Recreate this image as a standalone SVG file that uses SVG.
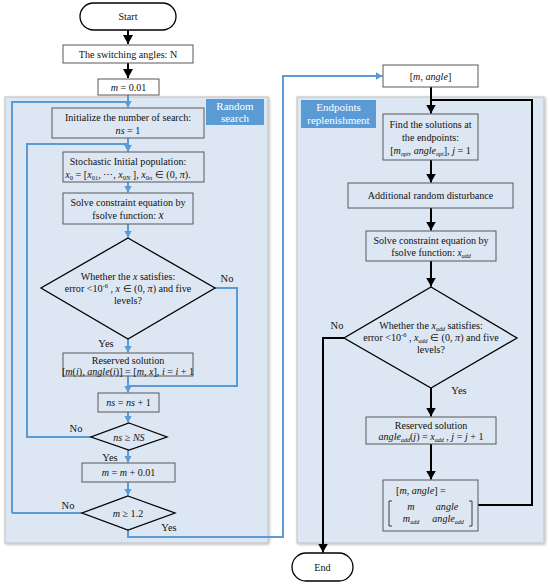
<svg xmlns="http://www.w3.org/2000/svg" width="550" height="585" viewBox="0 0 550 585" font-family="Liberation Serif, Times New Roman, serif">
<defs>
<marker id="ab" viewBox="0 0 10 10" refX="10" refY="5" markerWidth="7" markerHeight="8" orient="auto" markerUnits="userSpaceOnUse" preserveAspectRatio="none"><path d="M0,0 L10,5 L0,10 z" fill="#5b9bd5"/></marker>
<marker id="ak" viewBox="0 0 10 10" refX="10" refY="5" markerWidth="9" markerHeight="10" orient="auto" markerUnits="userSpaceOnUse" preserveAspectRatio="none"><path d="M0,0 L10,5 L0,10 z" fill="#000"/></marker>
<filter id="sh" x="-5%" y="-5%" width="110%" height="110%"><feGaussianBlur in="SourceAlpha" stdDeviation="1.5"/><feOffset dx="1" dy="1"/><feComponentTransfer><feFuncA type="linear" slope="0.3"/></feComponentTransfer><feMerge><feMergeNode/><feMergeNode in="SourceGraphic"/></feMerge></filter>
</defs>
<style>
text{font-family:'Liberation Serif','Times New Roman',serif;font-size:10.1px;fill:#111;text-anchor:middle}
.m{font-style:italic}
.lbl{fill:#fff;font-size:11px}
.yn{font-size:10.5px}
.box{fill:#dde7f3;stroke:#595959;stroke-width:1}
.wbox{fill:#fff;stroke:#595959;stroke-width:1}
.dia{fill:#dde7f3;stroke:#000;stroke-width:1.3}
.term{fill:#fff;stroke:#000;stroke-width:1.3}
.panel{fill:#dde7f3;stroke:#bfbfbf;stroke-width:1}
.tag{fill:#5b9bd5}
.bl{fill:none;stroke:#5b9bd5;stroke-width:2}
.kl{fill:none;stroke:#000;stroke-width:2}
</style>
<rect width="550" height="585" fill="#fff"/>
<g id="panel-random"><rect class="panel" x="5" y="97" width="263" height="446" filter="url(#sh)"/><rect class="tag" x="206" y="99" width="58" height="26"/><text class="lbl" x="235" y="110">Random</text><text class="lbl" x="235" y="122">search</text></g>
<g id="panel-endpoints"><rect class="panel" x="297" y="97" width="247" height="446" filter="url(#sh)"/><rect class="tag" x="301" y="100" width="75" height="28"/><text class="lbl" x="338.5" y="111">Endpoints</text><text class="lbl" x="338.5" y="124">replenishment</text></g>
<g id="connectors">
<path class="kl" d="M128,30 V44" marker-end="url(#ak)"/>
<path class="kl" d="M128,63 V78" marker-end="url(#ak)"/>
<path class="bl" d="M128,95 V107"/>
<path class="bl" d="M12,513 V102 H128 V107.5" marker-end="url(#ab)"/>
<path class="bl" d="M128,138 V151.5" marker-end="url(#ab)"/>
<path class="bl" d="M91,437 H27 V144 H128 V151.5" marker-end="url(#ab)"/>
<path class="bl" d="M128,182 V192.5" marker-end="url(#ab)"/>
<path class="bl" d="M128,224 V237.5" marker-end="url(#ab)"/>
<path class="bl" d="M128,339 V352.5" marker-end="url(#ab)"/>
<path class="bl" d="M128,376 V392.5" marker-end="url(#ab)"/>
<path class="bl" d="M215,288 H237 V386 H128"/>
<path class="bl" d="M128,412 V422.5" marker-end="url(#ab)"/>
<path class="bl" d="M128,450 V462.5" marker-end="url(#ab)"/>
<path class="bl" d="M128,482 V495.5" marker-end="url(#ab)"/>
<path class="bl" d="M82,513 H12"/>
<path class="bl" d="M128,530 V537 H283 V76 H382.5" marker-end="url(#ab)"/>
<path class="kl" d="M431,87 V113.5" marker-end="url(#ak)"/>
<path class="kl" d="M478,505 H532 V100 H431"/>
<path class="kl" d="M431,160 V182.5" marker-end="url(#ak)"/>
<path class="kl" d="M431,208 V230.5" marker-end="url(#ak)"/>
<path class="kl" d="M431,261 V286.5" marker-end="url(#ak)"/>
<path class="kl" d="M431,388 V416.5" marker-end="url(#ak)"/>
<path class="kl" d="M431,444 V479.5" marker-end="url(#ak)"/>
<path class="kl" d="M344,338 H323 V552.5" marker-end="url(#ak)"/>
</g>
<g id="start"><rect class="term" x="80" y="3" width="96" height="27" rx="13.5"/><text x="128" y="20" font-size="10.5">Start</text></g>
<g id="switching"><rect class="wbox" x="63" y="45" width="130" height="18"/><text x="128" y="57.5">The switching angles: N</text></g>
<g id="m001"><rect class="wbox" x="98" y="79" width="61" height="16"/><text x="128.5" y="90.5"><tspan class="m">m</tspan> = 0.01</text></g>
<g id="init"><rect class="box" x="52" y="108" width="152" height="30"/><text x="128" y="121">Initialize the number of search:</text><text x="128" y="134"><tspan class="m">ns</tspan> = 1</text></g>
<g id="stoch"><rect class="box" x="63" y="152" width="141" height="30"/><text x="128" y="165">Stochastic Initial population:</text><text x="128" y="178" font-size="10"><tspan class="m">x</tspan><tspan font-size="6.5" dy="2">0</tspan><tspan dy="-2"> = [</tspan><tspan class="m">x</tspan><tspan font-size="6.5" dy="2">01</tspan><tspan dy="-2">, ⋯, </tspan><tspan class="m">x</tspan><tspan font-size="6.5" dy="2">0</tspan><tspan font-size="6.5" class="m">N</tspan><tspan dy="-2"> ], </tspan><tspan class="m">x</tspan><tspan font-size="6.5" dy="2">0</tspan><tspan font-size="6.5" class="m">n</tspan><tspan dy="-2"> ∈ (0, </tspan><tspan class="m">π</tspan>).</text></g>
<g id="solve1"><rect class="box" x="63" y="193" width="130" height="31"/><text x="128" y="206">Solve constraint equation by</text><text x="128" y="219">fsolve function:  <tspan class="m" font-size="11.5">x</tspan></text></g>
<g id="check1"><polygon class="dia" points="128,238 215,288 128,339 41,288"/><text x="128" y="280">Whether the <tspan class="m">x</tspan> satisfies:</text><text x="128" y="292">error &lt;10<tspan font-size="6.5" dy="-4">-6</tspan><tspan dy="4"> ,  </tspan><tspan class="m">x</tspan> ∈ (0, <tspan class="m">π</tspan>)   and five</text><text x="128" y="304">levels?</text></g>
<g id="reserved1"><rect class="box" x="63" y="353" width="130" height="23"/><text x="128" y="364">Reserved solution</text><text x="128" y="374.5" font-size="9.5">[<tspan class="m">m</tspan>(<tspan class="m">i</tspan>), <tspan class="m">angle</tspan>(<tspan class="m">i</tspan>)] = [<tspan class="m">m</tspan>, <tspan class="m">x</tspan>], <tspan class="m">i</tspan> = <tspan class="m">i</tspan> + 1</text></g>
<g id="nsinc"><rect class="box" x="98" y="393" width="61" height="19"/><text x="128.5" y="406"><tspan class="m">ns</tspan> = <tspan class="m">ns</tspan> + 1</text></g>
<g id="nscheck"><polygon class="dia" points="129,423 167,437 129,450 91,437"/><text x="129" y="440.5"><tspan class="m">ns</tspan> ≥ <tspan class="m">NS</tspan></text></g>
<g id="minc"><rect class="box" x="82" y="463" width="93" height="19"/><text x="128.5" y="476"><tspan class="m">m</tspan> = <tspan class="m">m</tspan> + 0.01</text></g>
<g id="mcheck"><polygon class="dia" points="128,496 175,513 128,530 82,513"/><text x="128" y="516.5"><tspan class="m">m</tspan> ≥ 1.2</text></g>
<g id="labels-left">
<text class="yn" x="227" y="282">No</text><text class="yn" x="106" y="347">Yes</text><text class="yn" x="76" y="432">No</text><text class="yn" x="110" y="461">Yes</text><text class="yn" x="68" y="509">No</text><text class="yn" x="169" y="531">Yes</text>
</g>
<g id="mangle"><rect class="wbox" x="383" y="65" width="95" height="22"/><text x="430.5" y="79.5">[<tspan class="m">m</tspan>, <tspan class="m">angle</tspan>]</text></g>
<g id="find"><rect class="box" x="383" y="114" width="95" height="46"/><text x="430.5" y="128">Find the solutions at</text><text x="430.5" y="141">the endpoints:</text><text x="430.5" y="154" font-size="10">[<tspan class="m">m</tspan><tspan class="m" font-size="6" dy="2">opt</tspan><tspan dy="-2">, </tspan><tspan class="m">angle</tspan><tspan class="m" font-size="6" dy="2">opt</tspan><tspan dy="-2">], </tspan><tspan class="m">j</tspan> = 1</text></g>
<g id="disturb"><rect class="box" x="348" y="183" width="165" height="25"/><text x="430.5" y="199">Additional random disturbance</text></g>
<g id="solve2"><rect class="box" x="366" y="231" width="130" height="30"/><text x="431" y="244">Solve constraint equation by</text><text x="431" y="256">fsolve function:   <tspan class="m" font-size="9.5">x</tspan><tspan class="m" font-size="6" dy="2">add</tspan></text></g>
<g id="check2"><polygon class="dia" points="431,287 517,338 431,388 344,338"/><text x="431" y="329">Whether the <tspan class="m">x</tspan><tspan class="m" font-size="6" dy="2">add</tspan><tspan dy="-2">  satisfies:</tspan></text><text x="431" y="341">error &lt;10<tspan font-size="6.5" dy="-4">-6</tspan><tspan dy="4"> , </tspan><tspan class="m">x</tspan><tspan class="m" font-size="6" dy="2">add</tspan><tspan dy="-2"> ∈ (0, </tspan><tspan class="m">π</tspan>) and five</text><text x="431" y="353">levels?</text></g>
<g id="reserved2"><rect class="box" x="366" y="417" width="130" height="27"/><text x="431" y="429">Reserved solution</text><text x="431" y="440" font-size="9.5"><tspan class="m">angle</tspan><tspan class="m" font-size="6" dy="2">add</tspan><tspan dy="-2">(</tspan><tspan class="m">j</tspan>) = <tspan class="m">x</tspan><tspan class="m" font-size="6" dy="2">add</tspan><tspan dy="-2"> , </tspan><tspan class="m">j</tspan> = <tspan class="m">j</tspan> + 1</text></g>
<g id="merge"><rect class="box" x="383" y="480" width="95" height="51"/><text x="396" y="494" style="text-anchor:start">[<tspan class="m">m</tspan>, <tspan class="m">angle</tspan>] =</text>
<path d="M392,501 H389 V526 H392 M469,501 H472 V526 H469" fill="none" stroke="#111" stroke-width="0.8"/>
<text x="411" y="510" class="m">m</text><text x="447" y="510" class="m">angle</text>
<text x="411" y="522"><tspan class="m">m</tspan><tspan class="m" font-size="6" dy="2">add</tspan></text><text x="448" y="522"><tspan class="m">angle</tspan><tspan class="m" font-size="6" dy="2">add</tspan></text></g>
<g id="end"><rect class="term" x="292" y="553" width="61" height="28" rx="14"/><text x="322.5" y="571" font-size="10.5">End</text></g>
<g id="labels-right"><text class="yn" x="337" y="329">No</text><text class="yn" x="459" y="394">Yes</text></g>
</svg>
